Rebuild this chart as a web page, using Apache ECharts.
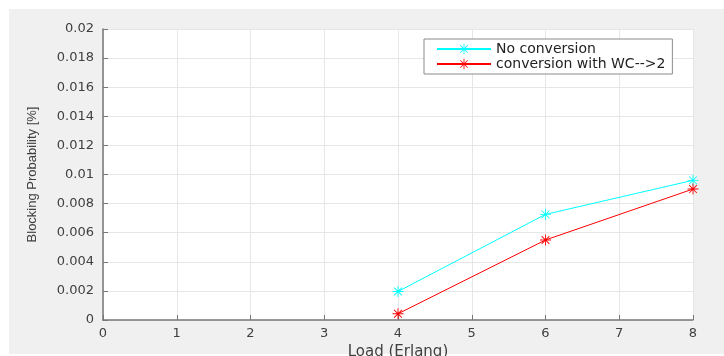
<!DOCTYPE html>
<html>
<head>
<meta charset="utf-8">
<script src="https://cdn.jsdelivr.net/npm/echarts@6/dist/echarts.min.js"></script>
<style>
  html, body { margin: 0; padding: 0; background: #fff; }
  #chart { width: 724px; height: 356px; }
</style>
</head>
<body>
<div id="chart"></div>
<script>
// data
var loads = [4, 6, 8];
var noConversion = [0.00196, 0.00726, 0.0096];
var conversionWC2 = [0.00043, 0.0055, 0.0090];
var seriesNames = ['No conversion', 'conversion with WC-->2'];

// asterisk marker like matlab '*'
var asterisk = 'path://M-0.8,-10 L0.8,-10 L0.8,10 L-0.8,10 Z ' +
	'M-10,-0.8 L10,-0.8 L10,0.8 L-10,0.8 Z ' +
	'M-7.6,-6.5 L-6.5,-7.6 L7.6,6.5 L6.5,7.6 Z ' +
	'M6.5,-7.6 L7.6,-6.5 L-6.5,7.6 L-7.6,6.5 Z';

function pairs(xs, ys) {
	var out = [];
	for (var i = 0; i < xs.length; i++) {
		out.push([xs[i], ys[i]]);
	}
	return out;
}

var myChart = echarts.init(document.getElementById('chart'));
var txt = '#404040';
var option = {
	animation: false,
	backgroundColor: '#fff',
	graphic: [{
		type: 'rect',
		left: 9, top: 9, z: -10,
		shape: { width: 715, height: 345 },
		style: { fill: '#f0f0f0' }
	}],
	grid: {
		left: 103, right: 31, top: 29, bottom: 36,
		outerBoundsMode: 'none',
		containLabel: false,
		show: true, backgroundColor: '#fff', borderWidth: 0
	},
	legend: {
		data: seriesNames,
		orient: 'vertical',
		left: 424, top: 39,
		padding: [3, 7, 3, 12],
		itemGap: 1,
		itemWidth: 54,
		itemHeight: 13,
		backgroundColor: '#fff',
		borderColor: '#8a8a8a',
		borderWidth: 1,
		textStyle: { fontFamily: 'DejaVu Sans', fontSize: 14, color: '#222' }
	},
	xAxis: {
		type: 'value',
		min: 0, max: 8, interval: 1,
		name: 'Load (Erlang)',
		nameLocation: 'middle',
		nameGap: 24,
		nameTextStyle: { fontFamily: 'DejaVu Sans', fontSize: 15, color: txt },
		axisLine: { lineStyle: { color: '#777', width: 1.5 } },
		axisTick: { inside: true, length: 5, lineStyle: { color: '#777' } },
		axisLabel: { fontFamily: 'DejaVu Sans', fontSize: 13, color: txt, margin: 7 },
		splitLine: { show: true, lineStyle: { color: '#e6e6e6' } }
	},
	yAxis: {
		type: 'value',
		min: 0, max: 0.02, interval: 0.002,
		name: 'Blocking Probability [%]',
		nameLocation: 'middle',
		nameGap: 64,
		nameTextStyle: { fontFamily: 'Liberation Sans', fontSize: 13, color: txt },
		axisLine: { show: true, lineStyle: { color: '#777', width: 1.5 } },
		axisTick: { show: true, inside: true, length: 5, lineStyle: { color: '#777' } },
		axisLabel: {
			fontFamily: 'DejaVu Sans', fontSize: 13, color: txt, margin: 9,
			formatter: function(v) { return String(parseFloat(v.toFixed(3))); }
		},
		splitLine: { show: true, lineStyle: { color: '#e6e6e6' } }
	},
	series: [{
		name: seriesNames[0],
		type: 'line',
		data: pairs(loads, noConversion),
		symbol: asterisk,
		symbolSize: 11,
		showAllSymbol: true,
		color: '#00ffff',
		lineStyle: { width: 1, color: '#00ffff' },
		itemStyle: { color: '#00ffff' }
	}, {
		name: seriesNames[1],
		type: 'line',
		data: pairs(loads, conversionWC2),
		symbol: asterisk,
		symbolSize: 11,
		showAllSymbol: true,
		color: '#ff0000',
		lineStyle: { width: 1, color: '#ff0000' },
		itemStyle: { color: '#ff0000' }
	}]
};
myChart.setOption(option);
</script>
</body>
</html>
